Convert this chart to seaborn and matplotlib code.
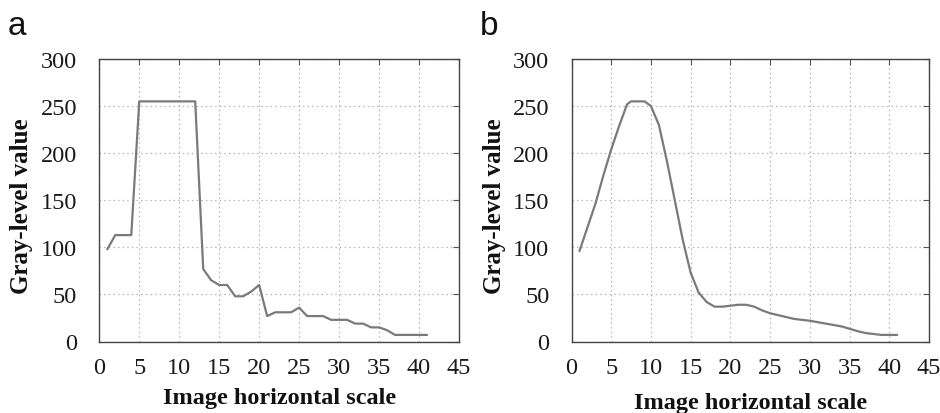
import numpy as np
import pandas as pd
import matplotlib
matplotlib.use("Agg")
import matplotlib.pyplot as plt
import seaborn as sns

# Panel a data
a_x = [1, 2, 4, 5, 12, 13, 14, 15, 16, 17, 18, 19, 20, 21, 22, 23, 24, 25, 26,
       27, 28, 29, 30, 31, 32, 33, 34, 35, 36, 37, 38, 39, 40, 41]
a_y = [98, 113, 113, 255, 255, 77, 65, 60, 60, 48, 48, 53, 60, 27, 31, 31, 31, 36, 27,
       27, 27, 23, 23, 23, 19, 19, 15, 15, 12, 7, 7, 7, 7, 7]

# Panel b data
b_x = [1, 2, 3, 4, 5, 6, 7, 7.5, 9.2, 10, 11, 12, 13, 14, 15, 16, 17, 18, 19, 20,
       21, 22, 23, 24, 25, 26, 27, 28, 29, 30, 31, 32, 33, 34, 35, 36, 37, 38, 39, 40, 41]
b_y = [96, 121, 146, 176, 204, 229, 252, 255, 255, 250, 230, 192, 150, 108, 73, 52, 42, 37, 37, 38,
       39, 39, 37, 33, 30, 28, 26, 24, 23, 22, 20.5, 19, 17.5, 16, 13.5, 11, 9, 8, 7, 7, 7]

x_ticks = [0, 5, 10, 15, 20, 25, 30, 35, 40, 45]
y_ticks = [0, 50, 100, 150, 200, 250, 300]
x_label = "Image horizontal scale"
y_label = "Gray-level value"
panel_labels = ["a", "b"]

sns.set_theme(style="white")
plt.rcParams["font.family"] = ["Liberation Serif", "DejaVu Serif"]

W, H = 940, 414
fig = plt.figure(figsize=(W / 100, H / 100), dpi=100)

axes_px = [(99.3, 459.0), (571.5, 929.0)]
top_px, bot_px = 60.0, 342.5
xlabel_y = [399, 404]
ylabel_x = [22, 495]

datasets = [(a_x, a_y), (b_x, b_y)]
for i, ((xs, ys), (l, r)) in enumerate(zip(datasets, axes_px)):
    ax = fig.add_axes([l / W, (H - bot_px) / H, (r - l) / W, (bot_px - top_px) / H])
    df = pd.DataFrame({"x": xs, "y": ys})
    sns.lineplot(data=df, x="x", y="y", ax=ax, color="#7a7a7a", linewidth=1.6)
    ax.set_xlim(0, 45)
    ax.set_ylim(0, 300)
    ax.set_xticks(x_ticks)
    ax.set_yticks(y_ticks)
    ax.set_facecolor("white")
    ax.grid(True, linestyle=(0, (1.2, 2.5)), color="#b5b5b5", linewidth=0.9)
    ax.tick_params(direction="in", length=4, width=0.8, colors="#555555",
                   top=True, right=True, labelsize=17.5, labelcolor="#1a1a1a", pad=11)
    ax.tick_params(axis="y", pad=16)
    for s in ax.spines.values():
        s.set_visible(True)
        s.set_color("#444444")
        s.set_linewidth(1.0)
    ax.set_xlabel("")
    ax.set_ylabel("")
    fig.text(((l + r) / 2) / W, 1 - xlabel_y[i] / H, x_label, ha="center", va="center",
             fontsize=17.5, fontweight="bold", color="#111111")
    fig.text(ylabel_x[i] / W, 1 - 206 / H, y_label, ha="center", va="center",
             rotation=90, fontsize=18, fontweight="bold", color="#111111")
    fig.text((l - 92) / W, 1 - 35 / H, panel_labels[i], ha="left", va="baseline",
             fontsize=24, color="#111111", family=["Liberation Sans", "DejaVu Sans"])

fig.savefig("out.png", dpi=100, facecolor="white")
